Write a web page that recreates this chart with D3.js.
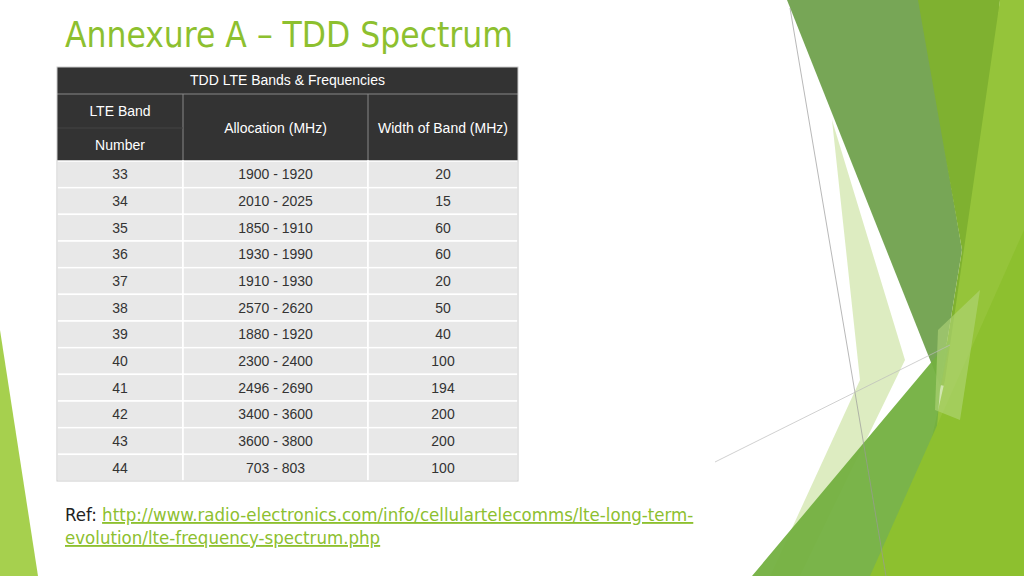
<!DOCTYPE html>
<html><head><meta charset="utf-8">
<script src="https://d3js.org/d3.v7.min.js"></script>
<style>body{margin:0;background:#fff}svg{display:block}</style></head>
<body><svg id="c" width="1024" height="576"></svg>
<script>
const bands = ["33","34","35","36","37","38","39","40","41","42","43","44"];
const allocations = ["1900 - 1920","2010 - 2025","1850 - 1910","1930 - 1990","1910 - 1930","2570 - 2620","1880 - 1920","2300 - 2400","2496 - 2690","3400 - 3600","3600 - 3800","703 - 803"];
const widths = [20,15,60,60,20,50,40,100,194,200,200,100];
const headers = ["Allocation (MHz)","Width of Band (MHz)"];

const svg = d3.select("#c");
// decorations
const deco = [
  {p:[[0,330],[38,576],[0,576]], f:"#9ccb3b", o:0.9},
  {p:[[832,120],[905,360],[800,576],[770,576],[860,380]], f:"#cfe4a6", o:0.7},
  {p:[[787,0],[920,0],[962,250],[940,385]], f:"#5f9638", o:0.85},
  {p:[[918,0],[1000,0],[965,390],[940,385],[962,250]], f:"#7fb130", o:1},
  {p:[[1000,0],[1024,0],[1024,576],[900,576],[945,380]], f:"#95c43a", o:1},
  {p:[[752,576],[950,340],[940,390],[925,576]], f:"#73b040", o:0.95},
  {p:[[870,576],[1024,230],[1024,576]], f:"#8dc02f", o:1},
  {p:[[938,330],[980,290],[960,420],[935,410]], f:"#b2d67a", o:0.6}
];
svg.selectAll("polygon.d").data(deco).join("polygon")
  .attr("points",d=>d.p.join(" ")).attr("fill",d=>d.f).attr("opacity",d=>d.o);
svg.append("line").attr("x1",790).attr("y1",8).attr("x2",886).attr("y2",576).attr("stroke","#999").attr("stroke-width",0.7);
svg.append("line").attr("x1",715).attr("y1",462).attr("x2",950).attr("y2",345).attr("stroke","#bbb").attr("stroke-width",0.7);

svg.append("text").attr("x",65).attr("y",47).attr("fill","#8dc02f")
  .style("font-family","DejaVu Sans Condensed, DejaVu Sans").style("font-size","35px").text("Annexure A – TDD Spectrum");

// table
const colX = [57,183,368,518];
const y = d3.scaleBand().domain(bands).range([161,481]);
const F = "Liberation Sans, Arial";
const dark = "#333";
svg.append("rect").attr("x",57).attr("y",67).attr("width",461).attr("height",94).attr("fill",dark);
svg.append("line").attr("x1",57).attr("x2",518).attr("y1",94).attr("y2",94).attr("stroke","#888");
svg.append("line").attr("x1",183).attr("x2",183).attr("y1",94).attr("y2",161).attr("stroke","#888");
svg.append("line").attr("x1",368).attr("x2",368).attr("y1",94).attr("y2",161).attr("stroke","#888");
svg.append("line").attr("x1",57).attr("x2",183).attr("y1",128).attr("y2",128).attr("stroke","#444");
const ht = (x,yy,t)=>svg.append("text").attr("x",x).attr("y",yy).attr("text-anchor","middle").attr("fill","#fff").style("font-family",F).style("font-size","14px").text(t);
ht(287.5,85,"TDD LTE Bands & Frequencies");
ht(120,116,"LTE Band"); ht(120,150,"Number");
ht(275.5,133,headers[0]); ht(443,133,headers[1]);

const rows = bands.map((b,i)=>[b,allocations[i],String(widths[i])]);
const g = svg.append("g");
rows.forEach((r,i)=>{
  const yy = y(bands[i]);
  for(let c=0;c<3;c++){
    g.append("rect").attr("x",colX[c]).attr("y",yy).attr("width",colX[c+1]-colX[c]).attr("height",y.bandwidth())
      .attr("fill","#e8e8e8").attr("stroke","#fff").attr("stroke-width",1.5);
    g.append("text").attr("x",(colX[c]+colX[c+1])/2).attr("y",yy+y.bandwidth()/2+5).attr("text-anchor","middle")
      .attr("fill","#333").style("font-family",F).style("font-size","14px").text(r[c]);
  }
});
svg.append("rect").attr("x",57).attr("y",67).attr("width",461).attr("height",414).attr("fill","none").attr("stroke","#ccc");

const rf = "DejaVu Sans Condensed, DejaVu Sans";
const t1 = svg.append("text").attr("x",65).attr("y",521).style("font-family",rf).style("font-size","18.5px");
t1.append("tspan").attr("fill","#222").text("Ref: ");
t1.append("tspan").attr("fill","#8dc02f").attr("text-decoration","underline").text("http://www.radio-electronics.com/info/cellulartelecomms/lte-long-term-");
svg.append("text").attr("x",65).attr("y",544).style("font-family",rf).style("font-size","18.5px").attr("fill","#8dc02f").attr("text-decoration","underline").text("evolution/lte-frequency-spectrum.php");
</script></body></html>
